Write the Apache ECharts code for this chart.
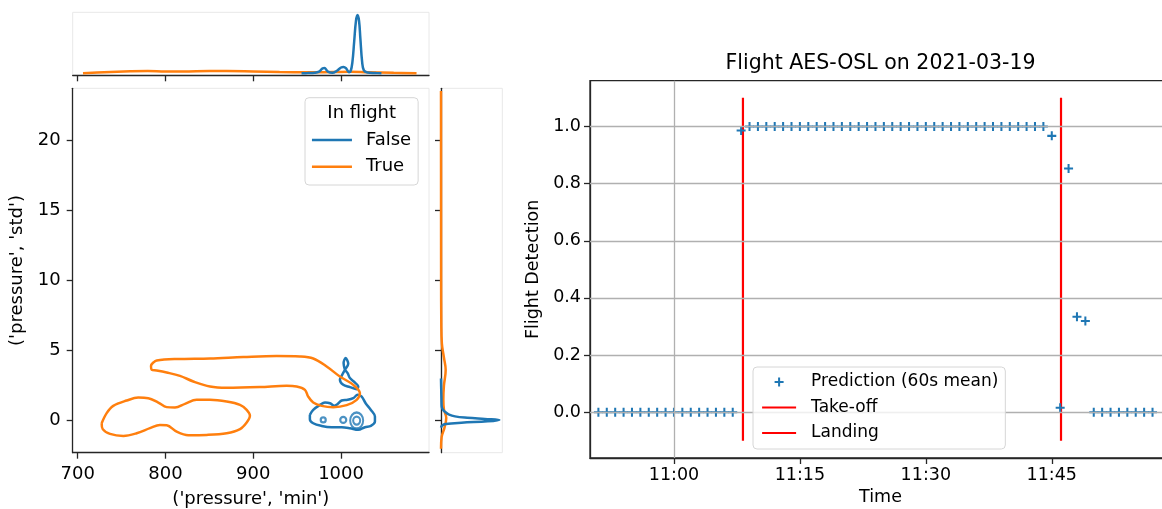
<!DOCTYPE html>
<html>
<head>
<meta charset="utf-8">
<script src="https://cdn.jsdelivr.net/npm/echarts@6/dist/echarts.min.js"></script>
<style>
  html, body { margin: 0; padding: 0; background: #fff; }
  #chart { width: 1162px; height: 509px; }
</style>
</head>
<body>
<div id="chart"></div>
<script>
// ---------- Left panel: joint KDE of pressure min vs pressure std ----------
const pressureTicks = [700, 800, 900, 1000];
const stdTicks = [0, 5, 10, 15, 20];

// density contour, In flight = True (two closed level lines)
const trueLowerContour = [
  [727.3, -0.19], [733, 0.53], [740.5, 1.05], [755.8, 1.43], [769, 1.64], [780.4, 1.6],
  [791.8, 1.29], [801.4, 0.96], [810.8, 0.93], [822.2, 1.19], [835.5, 1.48], [850.7, 1.48],
  [869.7, 1.36], [884.9, 1.12], [892.5, 0.76], [896.2, 0.34], [892.5, -0.14], [884.9, -0.61],
  [869.7, -0.9], [846.9, -1.02], [826, -1.04], [812.8, -0.79], [801.4, -0.33], [793.7, -0.31],
  [782.3, -0.54], [767.2, -0.9], [752, -1.09], [736.8, -0.95], [728.5, -0.61], [727.3, -0.19]
];
const trueUpperContour = [
  [786.1, 4.14], [790, 4.29], [812.8, 4.39], [850.7, 4.43], [888.6, 4.53], [926.6, 4.6],
  [953.2, 4.57], [968.3, 4.43], [983.6, 3.86], [998.7, 3.14], [1013.9, 2.55], [1021.5, 1.96],
  [1017.8, 1.48], [1006.4, 1.1], [991.1, 0.95], [977.9, 1.05], [968.3, 1.29], [962.6, 1.71],
  [958.9, 2.19], [949.4, 2.43], [938, 2.48], [907.6, 2.39], [869.7, 2.34], [850.7, 2.43],
  [831.7, 2.79], [816.5, 3.19], [801.4, 3.43], [790, 3.57], [784.3, 3.62], [783.5, 3.9], [786.1, 4.14]
];

// density contour, In flight = False
const falseOuterContour = [
  [964.5, 0.41], [968.3, 0.76], [976, 1.12], [981.7, 1.29], [987.4, 1.24], [992.3, 1.05],
  [996.2, 1.19], [1000.7, 1.43], [1007.5, 1.48], [1013.9, 1.6], [1018.9, 1.84], [1023.5, 1.71],
  [1028, 1.24], [1034, 0.76], [1038.6, 0.29], [1038.6, -0.07], [1034, -0.38], [1027.2, -0.47],
  [1019.6, -0.66], [1010.1, -0.54], [1000.7, -0.47], [989.3, -0.47], [977.9, -0.38], [968.3, -0.19],
  [964.5, 0.1], [964.5, 0.41]
];
const falseLoopContour = [
  [1004.4, 3.62], [1002.9, 4.1], [1005.2, 4.46], [1008.2, 4.05], [1004.4, 3.62], [1000.7, 3.19],
  [998.7, 2.91], [1002.5, 2.55], [1010.1, 2.39], [1017.8, 2.24], [1019.6, 2.43], [1015.9, 2.71],
  [1010.1, 3.03], [1007.5, 3.39], [1004.4, 3.62]
];
// small closed level rings inside the False region (centres)
const falseRingCenters = [[979.7, 0.05], [1002.5, 0.05], [1017.8, 0.0], [1017.8, 0.0]];

// marginal densities along pressure min (relative height)
const topKdeFalse = [
  [955, 0], [962, 0.004], [970, 0.01], [975, 0.03], [979, 0.085], [981, 0.09], [985, 0.03],
  [990, 0.01], [995, 0.04], [1000, 0.1], [1003, 0.11], [1006, 0.08], [1009, 0.02], [1011, 0.04],
  [1013, 0.2], [1015, 0.55], [1017, 0.9], [1018.8, 1.0], [1020.5, 0.9], [1022, 0.6], [1024, 0.2],
  [1026, 0.05], [1030, 0.015], [1040, 0.005], [1046, 0]
];
const topKdeTrue = [
  [706, 0.003], [730, 0.02], [760, 0.035], [780, 0.04], [800, 0.032], [820, 0.032], [850, 0.04],
  [870, 0.04], [900, 0.032], [930, 0.022], [960, 0.018], [990, 0.022], [1010, 0.026], [1030, 0.018],
  [1060, 0.008], [1086, 0.002]
];
// marginal densities along pressure std: [density, std]
const sideKdeFalse = [
  [0, -0.5], [0.02, -0.35], [0.08, -0.25], [0.35, -0.15], [0.8, -0.05], [1.0, 0.05], [0.75, 0.12],
  [0.45, 0.2], [0.24, 0.3], [0.13, 0.45], [0.07, 0.62], [0.03, 0.8], [0.012, 1.0], [0.008, 1.5],
  [0.004, 2.2], [0, 3]
];
const sideKdeTrue = [
  [0, -2.0], [0.01, -1.2], [0.06, -0.5], [0.09, 0.2], [0.05, 0.8], [0.04, 1.5], [0.05, 2.5],
  [0.08, 3.6], [0.05, 4.5], [0.015, 5.5], [0.005, 7], [0.002, 10], [0.001, 15], [0, 23.5]
];

// ---------- Right panel: flight detection over time ----------
const timeTickLabels = ['11:00', '11:15', '11:30', '11:45'];
const detectionTicks = [0, 0.2, 0.4, 0.6, 0.8, 1.0];
const predTimes = [
  '10:51', '10:52', '10:53', '10:54', '10:55', '10:56', '10:57', '10:58', '10:59', '11:00',
  '11:01', '11:02', '11:03', '11:04', '11:05', '11:06', '11:07', '11:08', '11:09', '11:10',
  '11:11', '11:12', '11:13', '11:14', '11:15', '11:16', '11:17', '11:18', '11:19', '11:20',
  '11:21', '11:22', '11:23', '11:24', '11:25', '11:26', '11:27', '11:28', '11:29', '11:30',
  '11:31', '11:32', '11:33', '11:34', '11:35', '11:36', '11:37', '11:38', '11:39', '11:40',
  '11:41', '11:42', '11:43', '11:44', '11:45', '11:46', '11:47', '11:48', '11:49', '11:50',
  '11:51', '11:52', '11:53', '11:54', '11:55', '11:56', '11:57'
];
const predValues = [
  0, 0, 0, 0, 0, 0, 0, 0, 0, 0,
  0, 0, 0, 0, 0, 0, 0, 0.986, 1, 1,
  1, 1, 1, 1, 1, 1, 1, 1, 1, 1,
  1, 1, 1, 1, 1, 1, 1, 1, 1, 1,
  1, 1, 1, 1, 1, 1, 1, 1, 1, 1,
  1, 1, 1, 1, 0.967, 0.016, 0.853, 0.334, 0.319, 0,
  0, 0, 0, 0, 0, 0, 0
];
const takeoffTime = '11:08:13';
const landingTime = '11:46:06';
const eventSpan = [-0.1, 1.1];

// ---------- helpers ----------
const toMin = s => { const p = s.split(':').map(Number); return p[0] * 60 + p[1] + (p[2] || 0) / 60; };
const fmtTime = v => { const h = Math.floor(v / 60 + 1e-9); const m = Math.round(v - h * 60); return h + ':' + String(m).padStart(2, '0'); };

const FONT = 'DejaVu Sans';
const BLUE = '#1f77b4', ORANGE = '#ff7f0e', RED = '#ff0000', INK = '#000000', SPINE = '#262626';
const PLUS = 'path://M3.1,0H4.9V3.1H8V4.9H4.9V8H3.1V4.9H0V3.1H3.1Z';

const spine = { show: true, onZero: false, lineStyle: { color: SPINE, width: 1.3 } };
const tickStyle = { color: SPINE, width: 1.3 };
// legend entry drawn as a plain line handle (no marker in the middle)
const lineHandle = name => ({ name, itemStyle: { opacity: 0, color: 'rgba(0,0,0,0)', borderColor: 'rgba(0,0,0,0)' } });

function contour(name, data, color, z) {
  return {
    type: 'line', name, xAxisIndex: 0, yAxisIndex: 0, data,
    smooth: 0.35, symbol: 'none', silent: true, z,
    lineStyle: { color, width: 2.5 }, itemStyle: { color }
  };
}
function kde(name, data, color, axis, z) {
  return {
    type: 'line', name, xAxisIndex: axis, yAxisIndex: axis, data,
    smooth: 0.4, symbol: 'none', silent: true, z,
    lineStyle: { color, width: 2.5 }, itemStyle: { color }
  };
}

const ringSizes = [[5, 5], [6, 6], [7, 8], [13, 16]];
const pressureRange = { min: 694.3, max: 1100.2 };
const stdRange = { min: -2.29, max: 23.7 };
const timeMin = toMin('10:50');
const timeMax = timeMin + 69.2;
const timeTicks = timeTickLabels.map(toMin);

const option = {
  animation: false,
  textStyle: { fontFamily: FONT, color: INK },
  grid: [
    { left: 72.7, top: 88.3, width: 356.3, height: 364.4, show: true, borderColor: '#e8e8e8', borderWidth: 1, containLabel: false, outerBoundsMode: 'none' },
    { left: 72.7, top: 12.3, width: 356.3, height: 63, show: true, borderColor: '#e8e8e8', borderWidth: 1, containLabel: false, outerBoundsMode: 'none' },
    { left: 441, top: 88.3, width: 61.3, height: 364.4, show: true, borderColor: '#e8e8e8', borderWidth: 1, containLabel: false, outerBoundsMode: 'none' },
    { left: 590, top: 80.7, width: 581, height: 377.3, show: true, borderColor: SPINE, borderWidth: 1.3, containLabel: false, outerBoundsMode: 'none' }
  ],
  xAxis: [
    {
      gridIndex: 0, type: 'value', ...pressureRange,
      axisLine: spine,
      axisTick: { show: true, customValues: pressureTicks, length: 6, lineStyle: tickStyle },
      axisLabel: { customValues: pressureTicks, formatter: v => String(v), margin: 13, fontSize: 18, color: INK, fontFamily: FONT },
      splitLine: { show: false },
      name: "('pressure', 'min')", nameLocation: 'middle', nameGap: 38,
      nameTextStyle: { fontSize: 18, color: INK, fontFamily: FONT }
    },
    {
      gridIndex: 1, type: 'value', ...pressureRange,
      axisLine: spine,
      axisTick: { show: true, customValues: pressureTicks, length: 6, lineStyle: tickStyle },
      axisLabel: { show: false }, splitLine: { show: false }
    },
    { gridIndex: 2, type: 'value', min: 0, max: 1.05, show: false, axisLine: { onZero: false }, splitLine: { show: false } },
    {
      gridIndex: 3, type: 'value', min: timeMin, max: timeMax,
      axisLine: spine,
      axisTick: { show: true, customValues: timeTicks, length: 6, lineStyle: tickStyle },
      axisLabel: { customValues: timeTicks, formatter: v => fmtTime(v), margin: 8, fontSize: 17.5, color: INK, fontFamily: FONT },
      splitLine: { show: false },
      name: 'Time', nameLocation: 'middle', nameGap: 28,
      nameTextStyle: { fontSize: 17.5, color: INK, fontFamily: FONT }
    }
  ],
  yAxis: [
    {
      gridIndex: 0, type: 'value', ...stdRange,
      axisLine: spine,
      axisTick: { show: true, customValues: stdTicks, length: 6, lineStyle: tickStyle },
      axisLabel: { customValues: stdTicks, formatter: v => String(v), margin: 12, fontSize: 18, color: INK, fontFamily: FONT },
      splitLine: { show: false },
      name: "('pressure', 'std')", nameLocation: 'middle', nameGap: 46,
      nameTextStyle: { fontSize: 18, color: INK, fontFamily: FONT }
    },
    { gridIndex: 1, type: 'value', min: -0.034, max: 1.046, show: false, axisLine: { onZero: false }, splitLine: { show: false } },
    {
      gridIndex: 2, type: 'value', ...stdRange,
      axisLine: spine,
      axisTick: { show: true, customValues: stdTicks, length: 6, lineStyle: tickStyle },
      axisLabel: { show: false }, splitLine: { show: false }
    },
    {
      gridIndex: 3, type: 'value', min: -0.16, max: 1.16,
      axisLine: spine,
      axisTick: { show: true, customValues: detectionTicks, length: 6, lineStyle: tickStyle },
      axisLabel: { customValues: detectionTicks, formatter: v => v.toFixed(1), margin: 9, fontSize: 17.5, color: INK, fontFamily: FONT },
      splitLine: { show: false },
      name: 'Flight Detection', nameLocation: 'middle', nameGap: 48,
      nameTextStyle: { fontSize: 17.5, color: INK, fontFamily: FONT }
    }
  ],
  legend: [
    {
      data: [lineHandle('False'), lineHandle('True')], orient: 'vertical', left: 305, top: 97.7,
      padding: [33.3, 7, 9.3, 5.7], itemWidth: 40, itemHeight: 9, itemGap: 8.7,
      lineStyle: { width: 2.5 },
      backgroundColor: 'rgba(255,255,255,0.8)', borderColor: '#d6d6d6', borderWidth: 1, borderRadius: 4,
      textStyle: { fontSize: 18, lineHeight: 18, color: INK, fontFamily: FONT, padding: [0, 0, 0, 9] },
      selectedMode: false, z: 10
    },
    {
      data: ['Prediction (60s mean)', lineHandle('Take-off'), lineHandle('Landing')], orient: 'vertical', left: 753, top: 367,
      padding: [6.5, 7, 7.5, 8], itemWidth: 34, itemHeight: 9, itemGap: 8.5,
      lineStyle: { width: 2.2 },
      backgroundColor: 'rgba(255,255,255,0.8)', borderColor: '#d6d6d6', borderWidth: 1, borderRadius: 4,
      textStyle: { fontSize: 17, lineHeight: 17, color: INK, fontFamily: FONT, padding: [0, 0, 0, 10] },
      selectedMode: false, z: 10
    }
  ],
  graphic: [
    { type: 'text', x: 361.7, y: 113, z: 100, silent: true,
      style: { text: 'In flight', fontSize: 18, fontFamily: FONT, fill: INK, textAlign: 'center', textVerticalAlign: 'middle' } },
    { type: 'text', x: 880.5, y: 64, z: 100, silent: true,
      style: { text: 'Flight AES-OSL on 2021-03-19', fontSize: 20.5, fontFamily: FONT, fill: INK, textAlign: 'center', textVerticalAlign: 'middle' } }
  ],
  series: [
    contour('False', falseOuterContour, BLUE, 2),
    contour('False', falseLoopContour, BLUE, 2),
    {
      type: 'scatter', name: 'False', xAxisIndex: 0, yAxisIndex: 0, silent: true, z: 2,
      data: falseRingCenters.map((c, i) => ({ value: c, symbolSize: ringSizes[i] })),
      symbol: 'circle', symbolKeepAspect: false,
      itemStyle: { color: 'rgba(0,0,0,0)', borderColor: BLUE, borderWidth: 2.2 }
    },
    contour('True', trueLowerContour, ORANGE, 3),
    contour('True', trueUpperContour, ORANGE, 3),
    kde('False', topKdeFalse, BLUE, 1, 3),
    kde('True', topKdeTrue, ORANGE, 1, 2),
    kde('False', sideKdeFalse, BLUE, 2, 3),
    kde('True', sideKdeTrue, ORANGE, 2, 2),

    // reference lines of the detection panel
    {
      type: 'line', name: 'gridlines', xAxisIndex: 3, yAxisIndex: 3, data: [], silent: true, z: 1,
      markLine: {
        silent: true, symbol: 'none', label: { show: false }, animation: false,
        lineStyle: { color: '#b0b0b0', width: 1.3, type: 'solid' },
        emphasis: { disabled: true },
        data: [
          ...detectionTicks.map(v => ({ yAxis: v })),
          { xAxis: toMin('11:00') }
        ]
      }
    },
    {
      type: 'line', name: 'Take-off', xAxisIndex: 3, yAxisIndex: 3, silent: true, z: 2, symbol: 'none',
      data: eventSpan.map(v => [toMin(takeoffTime), v]),
      lineStyle: { color: RED, width: 2.2 }, itemStyle: { color: RED }
    },
    {
      type: 'line', name: 'Landing', xAxisIndex: 3, yAxisIndex: 3, silent: true, z: 2, symbol: 'none',
      data: eventSpan.map(v => [toMin(landingTime), v]),
      lineStyle: { color: RED, width: 2.2 }, itemStyle: { color: RED }
    },
    {
      type: 'scatter', name: 'Prediction (60s mean)', xAxisIndex: 3, yAxisIndex: 3, silent: true, z: 3,
      data: predTimes.map((t, i) => [toMin(t), predValues[i]]),
      symbol: PLUS, symbolSize: 9, symbolKeepAspect: true,
      itemStyle: { color: BLUE, opacity: 1 }
    }
  ]
};

const chart = echarts.init(document.getElementById('chart'), null, { renderer: 'canvas' });
chart.setOption(option);
</script>
</body>
</html>
